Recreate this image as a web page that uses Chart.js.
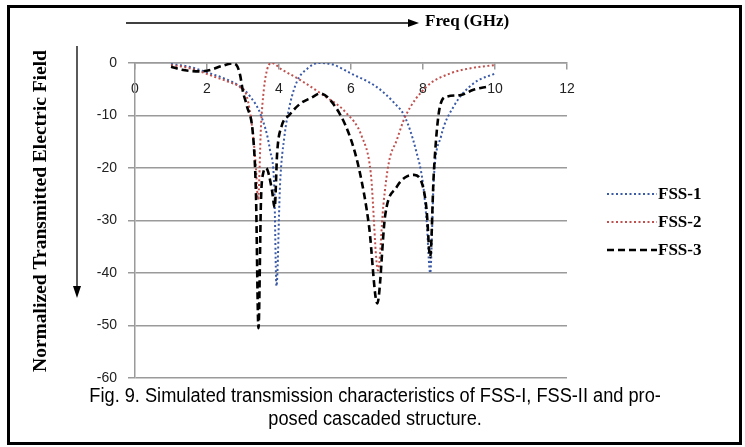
<!DOCTYPE html>
<html>
<head>
<meta charset="utf-8">
<script src="https://cdn.jsdelivr.net/npm/chart.js@4.4.1/dist/chart.umd.min.js"></script>
<style>
  body { margin: 0; background: #fff; }
  #wrap { position: relative; width: 745px; height: 447px; }
  #frame { position: absolute; left: 7px; top: 5px; width: 729px; height: 434px; border: 3px solid #000; }
  canvas { position: absolute; left: 0; top: 0; }
  #caption { position: absolute; left: 7px; width: 735px; top: 384px; text-align: center;
    font-family: "Liberation Sans", Arial, sans-serif;
    font-size: 20px; line-height: 23px; color: #000;
    transform: scaleX(0.91); transform-origin: 374px 0; }
</style>
</head>
<body>
<div id="wrap">
  <div id="frame"></div>
  <canvas id="chartLine" width="745" height="447"></canvas>
  <div id="caption">Fig. 9. Simulated transmission characteristics of FSS-I, FSS-II and pro-<br>posed cascaded structure.</div>
</div>
<script>
var ctx = document.getElementById('chartLine').getContext('2d');

// FSS-1 (blue dotted)
const fss1X = [1.0, 1.5, 2.0, 2.5, 2.9, 3.2, 3.5, 3.75, 3.87, 3.93, 4.03, 4.15, 4.3, 4.5, 4.8, 5.1, 5.5, 6.0, 6.7, 7.2, 7.5, 7.8, 8.0, 8.1, 8.2, 8.3, 8.5, 8.85, 9.4, 10.0];
const fss1Y = [-0.2, -0.7, -1.8, -3.0, -4.4, -6.4, -10.0, -16.6, -24, -42.5, -23, -14, -8, -3.5, -1, 0, -0.3, -2, -4.5, -7.6, -10.3, -16.5, -23, -30, -40, -22, -14, -8.3, -3.9, -2];

// FSS-2 (red dotted)
const fss2X = [1.0, 1.4, 1.8, 2.2, 2.6, 2.92, 3.1, 3.25, 3.35, 3.42, 3.5, 3.58, 3.68, 3.8, 4.07, 4.58, 5.2, 5.88, 6.3, 6.55, 6.75, 6.9, 7.05, 7.27, 7.5, 8.1, 8.75, 9.4, 10.0];
const fss2Y = [-0.4, -0.8, -1.6, -2.6, -3.6, -4.6, -6.2, -12, -19, -26, -12, -5, -1, 0, -1.2, -3.2, -6, -9.6, -14, -21, -39.5, -27, -19, -14.7, -10.3, -4.5, -2, -0.9, -0.4];

// FSS-3 (black dashed)
const fss3X = [1.0, 1.3, 1.8, 2.1, 2.4, 2.7, 2.82, 2.92, 3.0, 3.1, 3.29, 3.36, 3.43, 3.5, 3.56, 3.64, 3.8, 3.88, 3.95, 4.07, 4.3, 4.6, 4.9, 5.15, 5.5, 5.97, 6.25, 6.5, 6.73, 6.95, 7.27, 7.5, 7.75, 8.0, 8.1, 8.2, 8.3, 8.47, 8.66, 9.05, 9.4, 9.8];
const fss3Y = [-0.7, -1.3, -1.6, -1.3, -0.6, -0.1, -0.4, -2.3, -5.5, -8, -14.7, -25, -50.5, -26, -21, -20, -24, -27.5, -17, -12.1, -9.8, -7.7, -6.6, -5.8, -7.7, -14, -21, -31, -45.8, -29, -23.6, -21.8, -21.3, -23.6, -28, -37, -21, -8.3, -6.4, -6.1, -5.1, -4.5];

const xTicks = [0, 2, 4, 6, 8, 10, 12];
const yTicks = [0, -10, -20, -30, -40, -50, -60];

const toPoints = (xs, ys) => xs.map((x, i) => ({ x: x, y: ys[i] }));

const decor = {
    id: 'decor',
    afterDraw(chart) {
        const c = chart.ctx;
        c.save();
        c.fillStyle = '#000';
        c.strokeStyle = '#000';
        c.lineWidth = 1.3;
        c.setLineDash([]);

        // arrow to the right + "Freq (GHz)"
        c.beginPath(); c.moveTo(126, 23); c.lineTo(410, 23); c.stroke();
        c.beginPath(); c.moveTo(419, 23); c.lineTo(408, 19); c.lineTo(408, 27); c.closePath(); c.fill();
        c.font = 'bold 17px "Liberation Serif", "Times New Roman", serif';
        c.textBaseline = 'middle';
        c.textAlign = 'left';
        c.fillText('Freq (GHz)', 425, 22);

        // arrow downward + y title
        c.beginPath(); c.moveTo(77, 46); c.lineTo(77, 288); c.stroke();
        c.beginPath(); c.moveTo(77, 298); c.lineTo(73, 286); c.lineTo(81, 286); c.closePath(); c.fill();
        c.save();
        c.translate(41, 211);
        c.rotate(-Math.PI / 2);
        c.textAlign = 'center';
        c.font = 'bold 19.5px "Liberation Serif", "Times New Roman", serif';
        c.fillText('Normalized Transmitted Electric Field', 0, 0);
        c.restore();

        // legend
        c.textAlign = 'left';
        c.font = 'bold 17px "Liberation Serif", "Times New Roman", serif';
        chart.data.datasets.forEach((ds, i) => {
            const y = 194 + i * 28;
            c.strokeStyle = ds.borderColor;
            c.lineWidth = ds.borderWidth;
            c.setLineDash(ds.borderDash);
            c.beginPath(); c.moveTo(607, y); c.lineTo(657, y); c.stroke();
            c.setLineDash([]);
            c.fillText(ds.label, 658, y + 1);
        });
        c.restore();
    }
};

var chart = new Chart(ctx, {
    type: 'scatter',
    data: {
        datasets: [{
            label: 'FSS-1',
            data: toPoints(fss1X, fss1Y),
            borderColor: '#3a5aa6',
            borderWidth: 2,
            borderDash: [2, 2.5],
            order: 3
        },
        {
            label: 'FSS-2',
            data: toPoints(fss2X, fss2Y),
            borderColor: '#c0504d',
            borderWidth: 2,
            borderDash: [2, 2.5],
            order: 2
        },
        {
            label: 'FSS-3',
            data: toPoints(fss3X, fss3Y),
            borderColor: '#000',
            borderWidth: 2.6,
            borderDash: [7, 4],
            order: 1
        }]
    },
    options: {
        responsive: false,
        animation: false,
        showLine: true,
        elements: {
            point: { radius: 0, hoverRadius: 0 },
            line: { cubicInterpolationMode: 'monotone' }
        },
        layout: { padding: { left: 90, top: 63, right: 178, bottom: 69 } },
        plugins: { legend: { display: false }, tooltip: { enabled: false } },
        scales: {
            x: {
                type: 'linear',
                position: { y: 0 },
                min: 0, max: 12,
                afterBuildTicks: s => { s.ticks = xTicks.map(v => ({ value: v })); },
                afterFit: s => { s.height = 0; s.paddingLeft = 0; s.paddingRight = 0; },
                ticks: { color: '#222', padding: 12, font: { family: '"Liberation Sans", Arial', size: 14 } },
                grid: { drawOnChartArea: false, drawTicks: true, tickLength: 6, color: '#9a9a9a', lineWidth: 1.5 },
                border: { color: '#9a9a9a', width: 1.5 }
            },
            y: {
                type: 'linear',
                position: 'left',
                min: -60, max: 0,
                afterBuildTicks: s => { s.ticks = yTicks.map(v => ({ value: v })); },
                afterFit: s => { s.width = 45; s.paddingTop = 0; s.paddingBottom = 0; },
                ticks: { color: '#222', padding: 11, font: { family: '"Liberation Sans", Arial', size: 14 } },
                grid: { color: '#9a9a9a', lineWidth: 1.5, tickLength: 7 },
                border: { color: '#9a9a9a', width: 1.5 }
            }
        }
    },
    plugins: [decor]
});
</script>
</body>
</html>
